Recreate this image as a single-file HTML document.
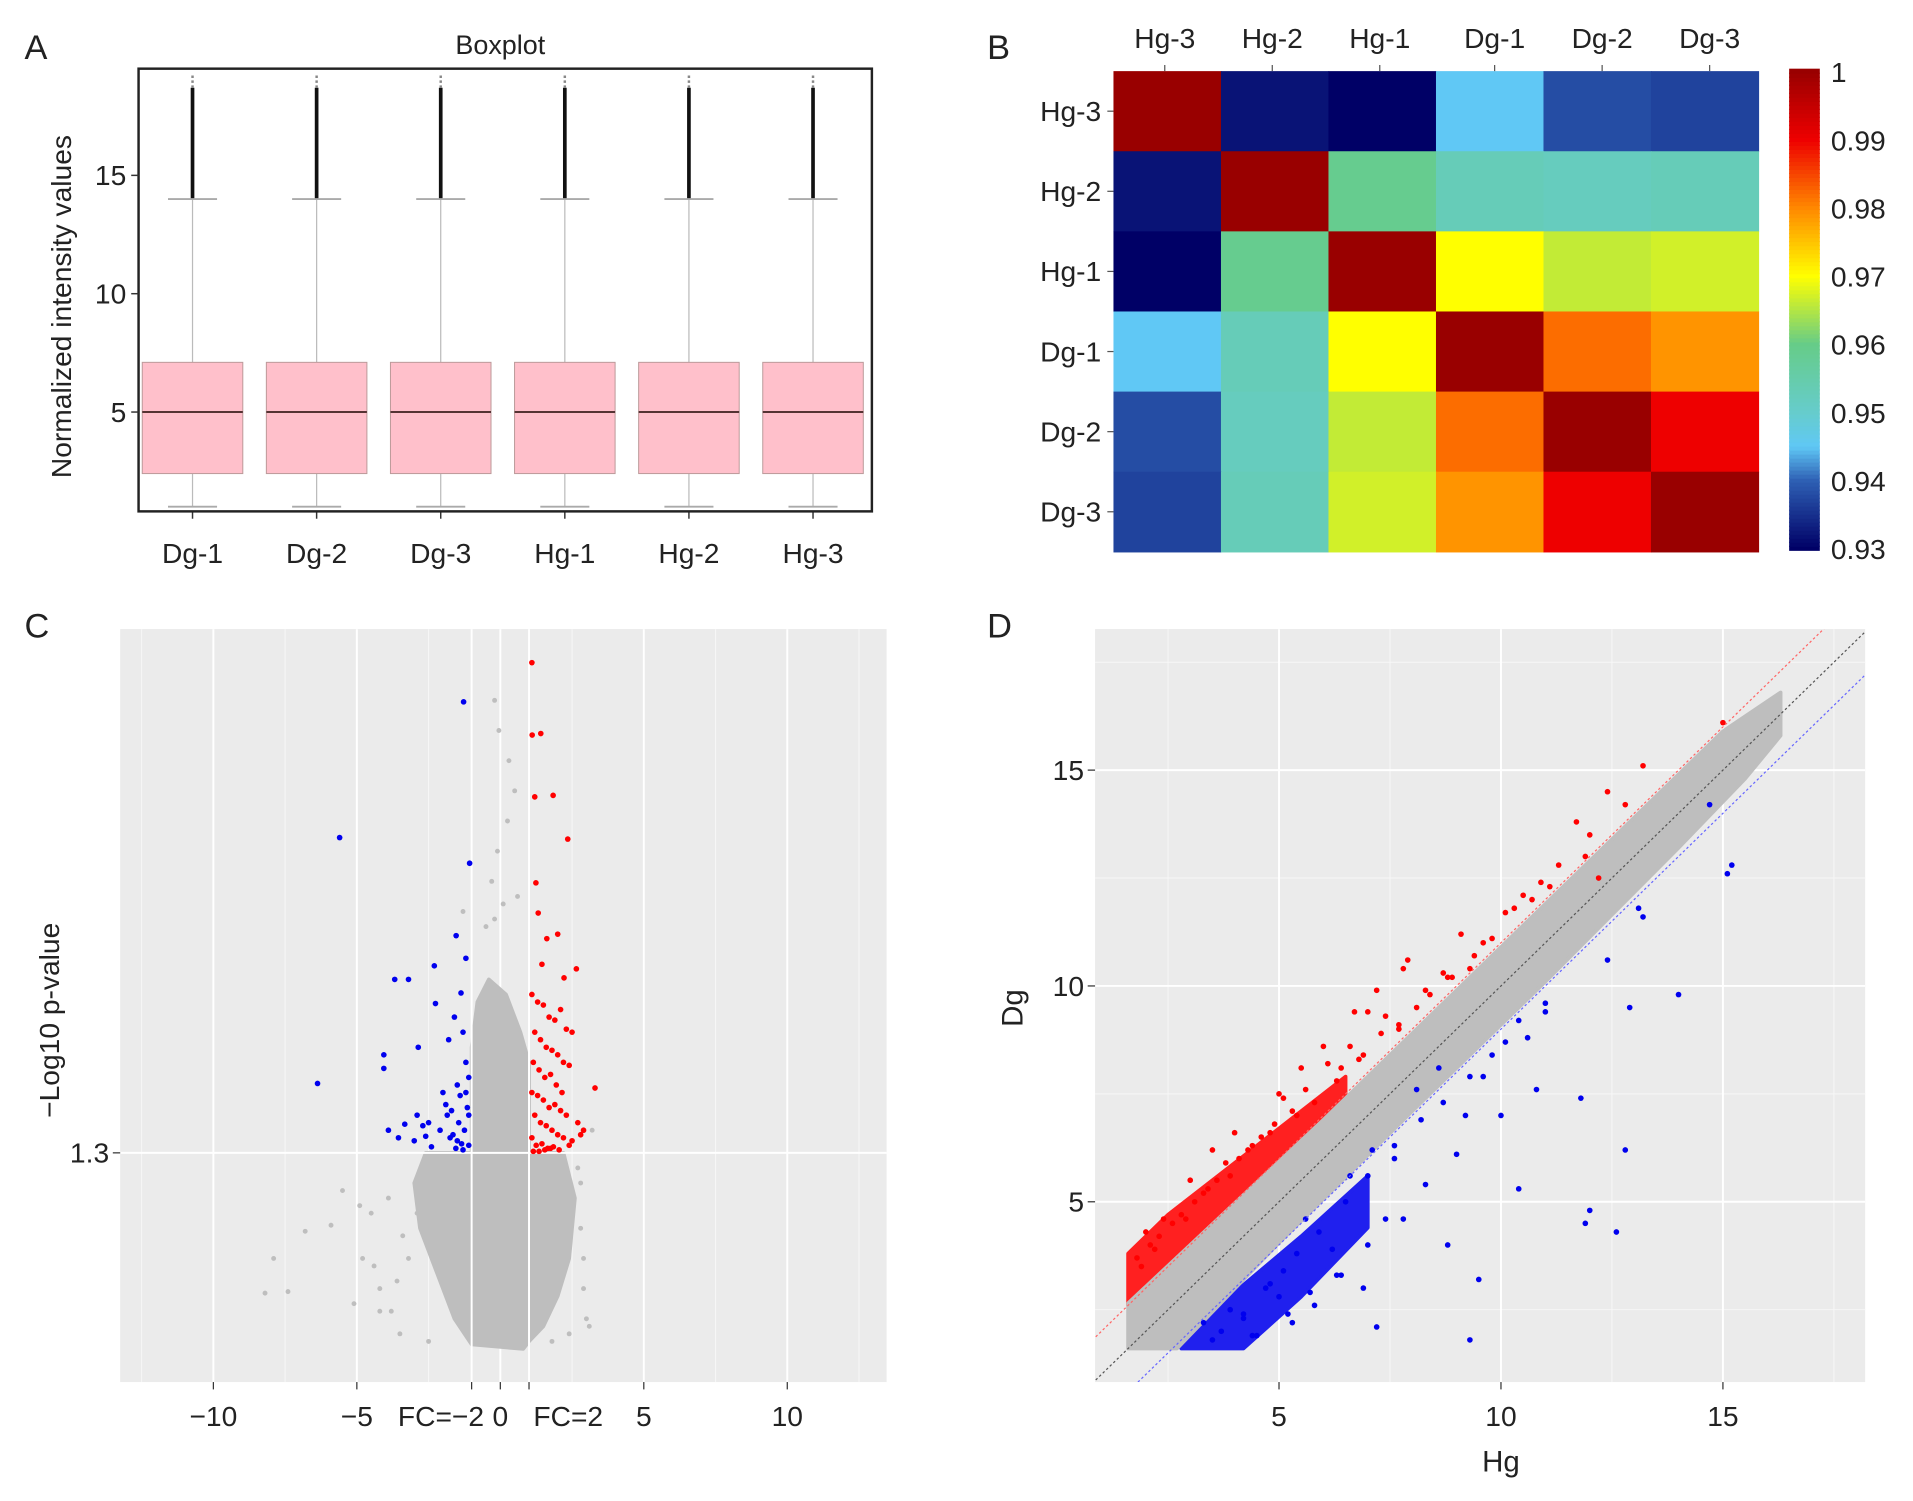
<!DOCTYPE html>
<html><head><meta charset="utf-8"><style>
html,body{margin:0;padding:0;background:#fff}
svg{display:block}
text{font-family:"Liberation Sans",Arial,sans-serif;fill:#222}
</style></head><body>
<svg id="fig" width="1913" height="1501" viewBox="0 0 1560 1224" preserveAspectRatio="none" xmlns="http://www.w3.org/2000/svg">
<defs>
<clipPath id="clipC"><rect x="98" y="513" width="625" height="614"/></clipPath>
<clipPath id="clipD"><rect x="893" y="513" width="628" height="614"/></clipPath>
</defs>
<text x="20" y="48" font-size="28">A</text>
<text x="805" y="48" font-size="28">B</text>
<text x="20" y="520" font-size="28">C</text>
<text x="805" y="520" font-size="28">D</text>
<g id="pA"></g>
<g id="pB"></g>
<g id="pC"></g>
<g id="pD"></g>
</svg>
<script>
// ---------- Panel A data ----------
const boxSamples=["Dg-1","Dg-2","Dg-3","Hg-1","Hg-2","Hg-3"];
const boxQ1=[2.4,2.4,2.4,2.4,2.4,2.4];
const boxMedian=[5.0,5.0,5.0,5.0,5.0,5.0];
const boxQ3=[7.1,7.1,7.1,7.1,7.1,7.1];
const boxLowWhisker=[1.0,1.0,1.0,1.0,1.0,1.0];
const boxHighWhisker=[14.0,14.0,14.0,14.0,14.0,14.0];
const boxMaxOutlier=[19.3,19.3,19.3,19.3,19.3,19.3];
const boxYTicks=[5,10,15];

// ---------- Panel B data ----------
const hmCols=["Hg-3","Hg-2","Hg-1","Dg-1","Dg-2","Dg-3"];
const hmRows=["Hg-3","Hg-2","Hg-1","Dg-1","Dg-2","Dg-3"];
const hmRowHg3=[1,0.932,0.930,0.945,0.938,0.937];
const hmRowHg2=[0.932,1,0.959,0.953,0.952,0.953];
const hmRowHg1=[0.930,0.959,1,0.970,0.966,0.967];
const hmRowDg1=[0.945,0.953,0.970,1,0.982,0.979];
const hmRowDg2=[0.938,0.952,0.966,0.982,1,0.990];
const hmRowDg3=[0.937,0.953,0.967,0.979,0.990,1];
const hmLegendTicks=[1,0.99,0.98,0.97,0.96,0.95,0.94,0.93];

// ---------- Panel C data (log2FC, -log10 p) ----------
const volXTicks=[-10,-5,-1,0,1,5,10];
const volXTickLabels=["\u221210","\u22125","FC=\u22122","0","FC=2","5","10"];
const volYTicks=[1.3];
const volGreyEnvX=[-1,-1.6,-2.2,-2.8,-3.0,-2.6,-1.0,-1.0,-0.8,-0.4,0.2,0.7,1.0,1.0,2.2,2.6,2.4,2.0,1.5,1.0,0.8];
const volGreyEnvY=[0.03,0.2,0.5,0.8,1.1,1.3,1.3,2.0,2.3,2.45,2.35,2.1,1.9,1.3,1.3,1.0,0.6,0.35,0.15,0.05,0.0];
const volGreyX=[-0.2,-0.05,0.3,0.5,0.25,-0.1,-0.3,0.6,-0.5,-0.2,0.1,-8.2,-7.4,-7.9,-6.8,-5.5,-4.4,-5.9,-4.9,-3.6,-4.2,-2.9,2.9,3.1,3.2,2.8,-1.3,-0.8,-4.5,-4.8,-4.2,-3.8,-3.5,-3.2,-5.1,2.8,2.9,3.0,2.7,-2.5,1.8,-3.4,-3.9,2.4];
const volGreyY=[4.3,4.1,3.9,3.7,3.5,3.3,3.1,3.0,2.8,2.85,2.95,0.37,0.38,0.6,0.78,1.05,0.55,0.82,0.95,0.45,0.25,0.9,0.6,0.15,1.45,1.1,2.9,1.2,0.9,0.6,0.4,0.25,0.1,0.6,0.3,0.8,0.4,0.2,1.2,0.05,0.05,0.75,1.0,0.1];
const volRedX=[1.1,1.41,1.11,1.84,1.2,2.35,1.24,1.32,1.62,1.45,2.22,2.65,2.0,1.1,1.3,1.5,1.7,1.9,2.1,2.3,2.5,1.2,1.4,1.6,1.8,2.0,2.2,2.4,3.3,1.15,1.35,1.55,1.75,1.95,2.15,1.1,1.3,1.5,1.7,1.9,2.1,2.3,2.7,2.9,1.2,1.4,1.6,1.8,2.0,2.2,2.5,2.8,1.1,1.25,1.45,1.65,1.85,2.05,2.4,1.15,1.35,1.55,1.75];
const volRedY=[4.55,4.08,4.07,3.67,3.66,3.38,3.09,2.89,2.72,2.55,2.46,2.52,2.75,2.35,2.3,2.28,2.2,2.18,2.25,2.12,2.1,2.1,2.05,2.0,1.98,1.95,1.9,1.88,1.73,1.9,1.85,1.8,1.82,1.75,1.7,1.7,1.68,1.65,1.6,1.62,1.58,1.55,1.5,1.45,1.55,1.5,1.48,1.45,1.42,1.4,1.38,1.42,1.4,1.35,1.36,1.33,1.34,1.32,1.35,1.31,1.31,1.32,1.33];
const volBlueX=[-1.28,-5.6,-1.07,-1.54,-3.68,-3.2,-2.3,-1.2,-4.06,-4.06,-6.37,-2.86,-2.26,-1.37,-3.33,-3.55,-2.9,-2.7,-1.9,-1.5,-1.1,-1.3,-1.6,-1.8,-2.0,-1.2,-1.4,-1.7,-3.9,-3.0,-2.5,-1.1,-1.25,-1.45,-1.65,-1.85,-2.1,-1.15,-1.35,-1.55,-1.75,-1.1,-1.3,-1.5,-2.4,-2.6,-1.2];
const volBlueY=[4.29,3.39,3.22,2.74,2.45,2.45,2.54,2.59,1.95,1.86,1.76,2.0,2.29,2.36,1.49,1.4,1.55,1.48,1.62,1.75,1.8,2.1,2.2,2.05,1.7,1.9,1.68,1.58,1.45,1.38,1.5,1.35,1.45,1.5,1.42,1.55,1.45,1.6,1.36,1.33,1.4,1.55,1.32,1.38,1.34,1.41,1.7];

// ---------- Panel D data (Hg, Dg) ----------
const scXTicks=[5,10,15];
const scYTicks=[5,10,15];
const scGreyEnvX=[1.6,2.7,5,8,11,14,15.5,16.3,16.3,15,12,9,6,3,1.6];
const scGreyEnvY=[1.6,1.6,4.05,7.1,10.1,13.2,14.8,15.8,16.8,15.9,12.9,9.9,6.9,4.0,2.65];
const scRedEnvX=[1.6,4,6.5,6.5,4.5,2.5,1.6];
const scRedEnvY=[2.6,5.0,7.5,7.9,6.3,4.7,3.8];
const scBlueEnvX=[2.8,4.2,5.5,7.0,7.0,5.5,4.0,3.2];
const scBlueEnvY=[1.6,1.6,2.8,4.4,5.6,4.2,2.9,2.2];
const scRedX=[15,13.2,12.4,11.7,11.9,12.8,12.0,12.2,11.1,10.9,10.5,10.1,9.8,9.4,9.1,8.7,8.3,7.9,7.4,7.0,6.6,6.1,5.6,5.1,4.6,4.1,3.6,3.1,2.6,2.1,1.8,10.3,9.6,8.9,8.1,7.7,6.8,6.3,5.4,4.9,4.3,3.8,3.3,2.8,2.3,1.9,11.3,10.7,2.2,2.9,3.4,3.9,4.4,4.8,5.3,5.8,6.4,6.9,7.3,7.7,8.4,8.8,9.3,2.0,2.4,3.0,3.5,4.0,5.0,5.5,6.0,6.7,7.2,7.8];
const scRedY=[16.1,15.1,14.5,13.8,13.0,14.2,13.5,12.5,12.3,12.4,12.1,11.7,11.1,10.7,11.2,10.3,9.9,10.6,9.3,9.4,8.6,8.2,7.6,7.4,6.5,6.0,5.5,5.0,4.5,4.0,3.7,11.8,11.0,10.2,9.5,9.0,8.3,7.8,7.0,6.8,6.2,5.9,5.2,4.7,4.2,3.5,12.8,12.0,3.9,4.6,5.3,5.6,6.3,6.6,7.1,7.3,8.1,8.4,8.9,9.1,9.8,10.2,10.4,4.3,4.6,5.5,6.2,6.6,7.5,8.1,8.6,9.4,9.9,10.4];
const scBlueX=[15.2,15.1,14.7,13.2,13.1,14.0,12.4,12.8,11.8,11.9,11.0,10.6,10.1,9.6,9.2,8.6,8.1,7.6,7.1,6.6,6.2,5.6,5.1,4.7,4.2,3.7,3.3,12.0,12.6,12.9,9.5,10.4,8.8,7.4,7.2,6.9,6.3,5.8,5.3,5.0,4.4,3.9,9.3,3.5,4.2,4.8,5.4,5.9,6.5,7.0,7.6,8.2,8.7,9.3,9.8,10.4,11.0,4.5,5.2,5.7,6.4,7.0,7.8,8.3,9.0,10.0,10.8];
const scBlueY=[12.8,12.6,14.2,11.6,11.8,9.8,10.6,6.2,7.4,4.5,9.4,8.8,8.7,7.9,7.0,8.1,7.6,6.3,6.2,5.6,3.9,4.6,3.4,3.0,2.4,2.0,2.2,4.8,4.3,9.5,3.2,5.3,4.0,4.6,2.1,3.0,3.3,2.6,2.2,2.8,1.9,2.5,1.8,1.8,2.3,3.1,3.8,4.3,5.0,5.6,6.0,6.9,7.3,7.9,8.4,9.2,9.6,1.9,2.4,2.9,3.3,4.0,4.6,5.4,6.1,7.0,7.6];

const NS='http://www.w3.org/2000/svg';
function mk(parent,tag,attrs,txt){const e=document.createElementNS(NS,tag);for(const k in attrs)e.setAttribute(k,attrs[k]);if(txt!==undefined)e.textContent=txt;parent.appendChild(e);return e;}

// ---------- Draw A ----------
(function(){
const g=document.getElementById('pA');
const y=v=>336-(v-5)*19.3;
const x0=157, step=101.2, bw=82;
let t=mk(g,'text',{x:408,y:44,'font-size':22,'text-anchor':'middle'},'Boxplot');


boxSamples.forEach((s,i)=>{
 const cx=x0+step*i;
 let l=mk(g,'line',{x1:cx,x2:cx,y1:y(boxLowWhisker[i]),y2:y(boxHighWhisker[i]),stroke:'#bbb','stroke-width':1});
 
 
 let o=mk(g,'line',{x1:cx,x2:cx,y1:y(boxHighWhisker[i]),y2:y(boxMaxOutlier[i]-0.6),stroke:'#111','stroke-width':3});
 
 
 mk(g,'line',{x1:cx,x2:cx,y1:y(boxMaxOutlier[i]-0.6),y2:y(boxMaxOutlier[i]),stroke:'#888','stroke-width':2,'stroke-dasharray':'2 2'});
 [boxLowWhisker[i],boxHighWhisker[i]].forEach(v=>mk(g,'line',{x1:cx-20,x2:cx+20,y1:y(v),y2:y(v),stroke:'#aaa','stroke-width':1.5}));
 let r=mk(g,'rect',{x:cx-bw/2,y:y(boxQ3[i]),width:bw,height:y(boxQ1[i])-y(boxQ3[i]),fill:'#ffc0cb',stroke:'#b99',"stroke-width":0.8});
 
 
 mk(g,'line',{x1:cx-bw/2,x2:cx+bw/2,y1:y(boxMedian[i]),y2:y(boxMedian[i]),stroke:'#553333','stroke-width':1.6});
 mk(g,'line',{x1:cx,x2:cx,y1:417,y2:423,stroke:'#333','stroke-width':1.2});
 let lb=mk(g,'text',{x:cx,y:459,'font-size':23,'text-anchor':'middle'},s);
 
 
});
let fr=mk(g,'rect',{x:113,y:56,width:598,height:361,fill:'none',stroke:'#222','stroke-width':2});


boxYTicks.forEach(v=>{
 mk(g,'line',{x1:107,x2:113,y1:y(v),y2:y(v),stroke:'#333','stroke-width':1.2});
 let tt=mk(g,'text',{x:103,y:y(v)+8,'font-size':23,'text-anchor':'end'},String(v));
 
 
});
let yl=mk(g,'text',{x:0,y:0,'font-size':23,'text-anchor':'middle',transform:'translate(58,250) rotate(-90)'},'Normalized intensity values');


})();

// ---------- Draw B ----------
const stops=[[0.93,[0,0,102]],[0.94,[46,96,180]],[0.945,[96,200,245]],[0.95,[102,204,204]],[0.96,[102,204,136]],[0.97,[255,255,0]],[0.98,[255,136,0]],[0.99,[238,0,0]],[1.0,[153,0,0]]];
function jet(v){for(let i=0;i<stops.length-1;i++){const a=stops[i],b=stops[i+1];if(v<=b[0]){const t=Math.max(0,(v-a[0])/(b[0]-a[0]));const c=a[1].map((ci,k)=>Math.round(ci+(b[1][k]-ci)*t));return 'rgb('+c.join(',')+')';}}return 'rgb(153,0,0)';}
(function(){
const g=document.getElementById('pB');
const X0=908,Y0=58,W=526,H=392;const cw=W/6,ch=H/6;
const rows=[hmRowHg3,hmRowHg2,hmRowHg1,hmRowDg1,hmRowDg2,hmRowDg3];
rows.forEach((row,ri)=>row.forEach((v,ci)=>{
 let c=mk(g,'rect',{x:X0+ci*cw,y:Y0+ri*ch,width:cw+0.5,height:ch+0.5,fill:jet(v)});
 
 
}));
hmCols.forEach((s,i)=>{const cx=X0+(i+0.5)*cw+(i<3?-2:4);
 mk(g,'line',{x1:cx,x2:cx,y1:Y0-5,y2:Y0,stroke:'#555'});
 let t=mk(g,'text',{x:cx,y:39,'font-size':23,'text-anchor':'middle'},s);
 
 });
hmRows.forEach((s,i)=>{const cy=Y0+(i+0.5)*ch;
 mk(g,'line',{x1:X0-5,x2:X0,y1:cy,y2:cy,stroke:'#555'});
 let t=mk(g,'text',{x:X0-10,y:cy+8,'font-size':23,'text-anchor':'end'},s);
 
 });
const LX=1459,LY0=58,LY1=447;
for(let k=0;k<120;k++){const v=0.93+0.07*(k/119);const yy=LY1-(LY1-LY0)*(k/119);mk(g,'rect',{x:LX,y:yy-2,width:25,height:4.2,fill:jet(v)});}
const ly=v=>LY1-(v-0.93)/0.07*(LY1-LY0);
hmLegendTicks.forEach(v=>{let t=mk(g,'text',{x:1493,y:ly(v)+9,'font-size':23},String(v));
 
 });
})();

function pts(g,xs,ys,fx,fy,col,name,r){xs.forEach((v,i)=>{let c=mk(g,'circle',{cx:fx(v),cy:fy(ys[i]),r:r,fill:col});
 
 });}
function poly(g,xs,ys,fx,fy,col,name){let p=mk(g,'polygon',{points:xs.map((v,i)=>fx(v)+','+fy(ys[i])).join(' '),fill:col,stroke:col,'stroke-width':3,'stroke-linejoin':'round'});
 
 }

// ---------- Draw C ----------
(function(){
const g=document.getElementById('pC');
const x=v=>408+23.4*v, y=v=>1100-123*v;
mk(g,'rect',{x:98,y:513,width:625,height:614,fill:'#ebebeb'});
const gg=mk(g,'g',{'clip-path':'url(#clipC)'});
[-12.5,-7.5,-2.5,2.5,7.5,12.5].forEach(v=>mk(gg,'line',{x1:x(v),x2:x(v),y1:513,y2:1127,stroke:'#f7f7f7','stroke-width':0.8}));
[-10,-5,0,5,10].forEach(v=>mk(gg,'line',{x1:x(v),x2:x(v),y1:513,y2:1127,stroke:'#fff','stroke-width':1.6}));
poly(gg,volGreyEnvX,volGreyEnvY,x,y,'#bebebe','grey-point-cloud');
pts(gg,volGreyX,volGreyY,x,y,'#bebebe','grey-point',2);
[-1,1].forEach(v=>mk(gg,'line',{x1:x(v),x2:x(v),y1:513,y2:1127,stroke:'#fff','stroke-width':1.6}));
volYTicks.forEach(v=>mk(gg,'line',{x1:98,x2:723,y1:y(v),y2:y(v),stroke:'#fff','stroke-width':1.6}));
pts(gg,volRedX,volRedY,x,y,'#ff0000','up-regulated-point',2.3);
pts(gg,volBlueX,volBlueY,x,y,'#0000ee','down-regulated-point',2.3);
volXTicks.forEach((v,i)=>{mk(g,'line',{x1:x(v),x2:x(v),y1:1127,y2:1133,stroke:'#333'});
 let t=mk(g,'text',{x:x(v)+(v===-1?-25:v===1?32:0),y:1163,'font-size':23,'text-anchor':'middle'},volXTickLabels[i]);
 
 });
volYTicks.forEach(v=>{mk(g,'line',{x1:92,x2:98,y1:y(v),y2:y(v),stroke:'#333'});
 let t=mk(g,'text',{x:89,y:y(v)+8,'font-size':23,'text-anchor':'end'},String(v));
 
 });
let yl=mk(g,'text',{x:0,y:0,'font-size':23,'text-anchor':'middle',transform:'translate(48,832) rotate(-90)'},'\u2212Log10 p-value');


})();

// ---------- Draw D ----------
(function(){
const g=document.getElementById('pD');
const x=v=>862+36.2*v, y=v=>1156-35.2*v;
mk(g,'rect',{x:893,y:513,width:628,height:614,fill:'#ebebeb'});
const gg=mk(g,'g',{'clip-path':'url(#clipD)'});
[2.5,7.5,12.5,17.5].forEach(v=>{mk(gg,'line',{x1:x(v),x2:x(v),y1:513,y2:1127,stroke:'#f7f7f7','stroke-width':0.8});mk(gg,'line',{x1:893,x2:1521,y1:y(v),y2:y(v),stroke:'#f7f7f7','stroke-width':0.8});});
scXTicks.forEach(v=>mk(gg,'line',{x1:x(v),x2:x(v),y1:513,y2:1127,stroke:'#fff','stroke-width':1.6}));
scYTicks.forEach(v=>mk(gg,'line',{x1:893,x2:1521,y1:y(v),y2:y(v),stroke:'#fff','stroke-width':1.6}));
poly(gg,scRedEnvX,scRedEnvY,x,y,'#ff2020','up-regulated-dense');
poly(gg,scBlueEnvX,scBlueEnvY,x,y,'#2020ee','down-regulated-dense');
poly(gg,scGreyEnvX,scGreyEnvY,x,y,'#bebebe','grey-point-band');
pts(gg,scRedX,scRedY,x,y,'#ff0000','up-regulated-point',2.3);
pts(gg,scBlueX,scBlueY,x,y,'#0000ee','down-regulated-point',2.3);
[[0,'#555'],[1,'#ff6666'],[-1,'#6666ff']].forEach(([o,c])=>{let l=mk(gg,'line',{x1:x(0),y1:y(0+o),x2:x(19),y2:y(19+o),stroke:c,'stroke-width':1,'stroke-dasharray':'2 2'});
 
 });
scXTicks.forEach(v=>{mk(g,'line',{x1:x(v),x2:x(v),y1:1127,y2:1133,stroke:'#333'});
 let t=mk(g,'text',{x:x(v),y:1163,'font-size':23,'text-anchor':'middle'},String(v));
 
 });
scYTicks.forEach(v=>{mk(g,'line',{x1:887,x2:893,y1:y(v),y2:y(v),stroke:'#333'});
 let t=mk(g,'text',{x:884,y:y(v)+8,'font-size':23,'text-anchor':'end'},String(v));
 
 });
let xl=mk(g,'text',{x:1224,y:1200,'font-size':24,'text-anchor':'middle'},'Hg');


let yl=mk(g,'text',{x:0,y:0,'font-size':24,'text-anchor':'middle',transform:'translate(834,822) rotate(-90)'},'Dg');


})();
</script>
</body></html>
